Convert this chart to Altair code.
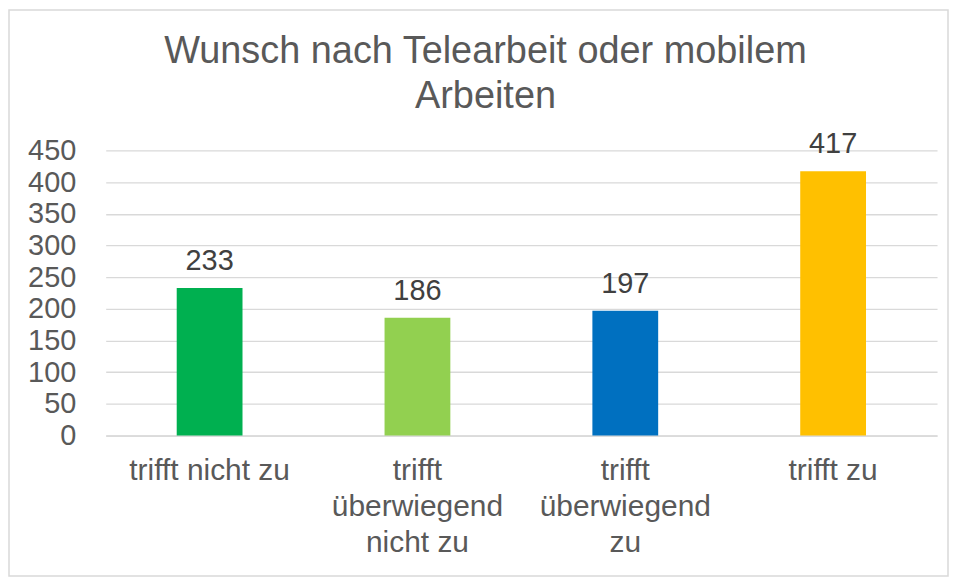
import altair as alt
import pandas as pd

title_text = "Wunsch nach Telearbeit oder mobilem|Arbeiten"
categories = ["trifft nicht zu", "trifft überwiegend nicht zu", "trifft überwiegend zu", "trifft zu"]
label_lines = {
    "trifft nicht zu": "trifft nicht zu",
    "trifft überwiegend nicht zu": "trifft|überwiegend|nicht zu",
    "trifft überwiegend zu": "trifft|überwiegend|zu",
    "trifft zu": "trifft zu",
}
values = [233, 186, 197, 417]
colors = ["#00B050", "#92D050", "#0070C0", "#FFC000"]
y_ticks = [0, 50, 100, 150, 200, 250, 300, 350, 400, 450]

df = pd.DataFrame({"cat": categories, "val": values})

FONT = "Liberation Sans"
TXT = "#595959"

label_expr = "split(" + "{" + ", ".join(f"'{k}': '{v}'" for k, v in label_lines.items()) + "}[datum.label], '|')"

x = alt.X("cat:N", sort=categories, title=None,
          scale=alt.Scale(paddingInner=0.0, paddingOuter=0.0),
          axis=alt.Axis(labelAngle=0, labelFont=FONT, labelFontSize=30, labelColor=TXT,
                        labelPadding=20, labelLineHeight=36, ticks=False, domainColor="#D9D9D9",
                        domainWidth=1.5, labelExpr=label_expr, labelBaseline="top", grid=False))
y = alt.Y("val:Q", title=None, scale=alt.Scale(domain=[0, 450], nice=False),
          axis=alt.Axis(values=y_ticks, labelFont=FONT, labelFontSize=29, labelColor=TXT,
                        domain=False, ticks=False, gridColor="#D9D9D9", gridWidth=1.3,
                        labelPadding=30, labelOverlap=False, labelBound=False, labelFlush=False))

bars = alt.Chart(df).mark_bar(size=66).encode(
    x=x, y=y,
    color=alt.Color("cat:N", sort=categories, scale=alt.Scale(domain=categories, range=colors), legend=None),
)
texts = alt.Chart(df).mark_text(font=FONT, fontSize=29, color="#404040", baseline="alphabetic", dy=-18).encode(
    x=x, y=y, text="val:Q"
)
border = alt.Chart(pd.DataFrame({"d": [0]})).mark_rect(filled=False, stroke="#D9D9D9", strokeWidth=1.5).encode(
    x=alt.value(-97), x2=alt.value(845), y=alt.value(-141), y2=alt.value(427)
)
title = alt.Chart(pd.DataFrame({"t": [title_text]})).mark_text(
    font=FONT, fontSize=38, color=TXT, align="center", baseline="top", lineBreak="|", lineHeight=45
).encode(x=alt.value(381), y=alt.value(-118), text="t:N")

chart = alt.layer(border, bars, texts, title).properties(
    width=834, height=286,
    padding={"left": 98, "top": 142, "right": 12, "bottom": 142},
    autosize=alt.AutoSizeParams(type="none"),
).configure_view(stroke=None)

chart.save("out.html", embed_options={"renderer": "svg", "actions": False})
